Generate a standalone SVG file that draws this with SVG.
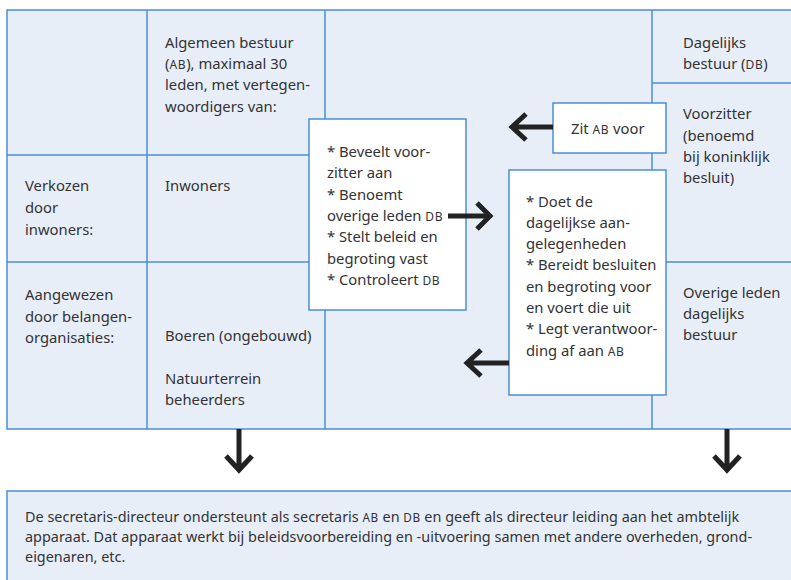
<svg xmlns="http://www.w3.org/2000/svg" width="791" height="580" viewBox="0 0 791 580">
<style>
.grid{fill:#e8eef8;stroke:#4a8fd6;stroke-width:1.5}
.ln{stroke:#4a8fd6;stroke-width:1.5;fill:none}
.box{fill:#ffffff;stroke:#4a8fd6;stroke-width:1.5}
text{font-family:"Noto Sans","Open Sans",sans-serif;font-size:14.8px;fill:#333333}
.sc{font-size:12px;letter-spacing:0.6px}
.arr{stroke:#222222;stroke-width:5;fill:none;stroke-linecap:butt;stroke-linejoin:miter}
</style>
<rect width="791" height="580" fill="#ffffff"/>
<g id="grid">
<rect class="grid" x="7" y="10" width="800" height="419"/>
<line class="ln" x1="147" y1="10" x2="147" y2="429"/>
<line class="ln" x1="325" y1="10" x2="325" y2="429"/>
<line class="ln" x1="652" y1="10" x2="652" y2="429"/>
<line class="ln" x1="7" y1="155" x2="325" y2="155"/>
<line class="ln" x1="7" y1="262" x2="325" y2="262"/>
<line class="ln" x1="652" y1="83" x2="800" y2="83"/>
<line class="ln" x1="652" y1="262" x2="800" y2="262"/>
</g>
<g id="col-labels">
<text x="25" y="191">Verkozen</text>
<text x="25" y="213">door</text>
<text x="25" y="235">inwoners:</text>
<text x="25" y="300">Aangewezen</text>
<text x="25" y="322">door belangen-</text>
<text x="25" y="343">organisaties:</text>
</g>
<g id="ab">
<text x="165" y="48">Algemeen bestuur</text>
<text x="165" y="69">(<tspan class="sc">AB</tspan>), maximaal 30</text>
<text x="165" y="90">leden, met vertegen-</text>
<text x="165" y="112">woordigers van:</text>
<text x="165" y="191">Inwoners</text>
<text x="165" y="341">Boeren (ongebouwd)</text>
<text x="165" y="384">Natuurterrein</text>
<text x="165" y="405">beheerders</text>
</g>
<g id="db">
<text x="683" y="48">Dagelijks</text>
<text x="683" y="69">bestuur (<tspan class="sc">DB</tspan>)</text>
<text x="683" y="119">Voorzitter</text>
<text x="683" y="141">(benoemd</text>
<text x="683" y="162">bij koninklijk</text>
<text x="683" y="183">besluit)</text>
<text x="683" y="298">Overige leden</text>
<text x="683" y="319">dagelijks</text>
<text x="683" y="340">bestuur</text>
</g>
<g id="zit">
<rect class="box" x="553" y="103" width="113" height="50"/>
<text x="571" y="134">Zit <tspan class="sc">AB</tspan> voor</text>
</g>
<g id="beveelt">
<rect class="box" x="309" y="119" width="157" height="191"/>
<text x="327" y="157">* Beveelt voor-</text>
<text x="327" y="178">zitter aan</text>
<text x="327" y="200">* Benoemt</text>
<text x="327" y="221">overige leden <tspan class="sc">DB</tspan></text>
<text x="327" y="242">* Stelt beleid en</text>
<text x="327" y="264">begroting vast</text>
<text x="327" y="285">* Controleert <tspan class="sc">DB</tspan></text>
</g>
<g id="doet">
<rect class="box" x="509" y="170" width="157" height="225"/>
<text x="526" y="207">* Doet de</text>
<text x="526" y="228">dagelijkse aan-</text>
<text x="526" y="249">gelegenheden</text>
<text x="526" y="270">* Bereidt besluiten</text>
<text x="526" y="292">en begroting voor</text>
<text x="526" y="313">en voert die uit</text>
<text x="526" y="334">* Legt verantwoor-</text>
<text x="526" y="356">ding af aan <tspan class="sc">AB</tspan></text>
</g>
<g id="secretaris">
<rect class="grid" x="7" y="491" width="800" height="100"/>
<g transform="translate(25 0) scale(0.975 1)">
<text x="0" y="522">De secretaris-directeur ondersteunt als secretaris <tspan class="sc">AB</tspan> en <tspan class="sc">DB</tspan> en geeft als directeur leiding aan het ambtelijk</text>
<text x="0" y="542">apparaat. Dat apparaat werkt bij beleidsvoorbereiding en -uitvoering samen met andere overheden, grond-</text>
<text x="0" y="562">eigenaren, etc.</text>
</g>
</g>
<g id="connectors">
<path class="arr" d="M553 127 H512 M526 114 L512 127 L526 140"/>
<path class="arr" d="M448 216 H490 M477 203 L490 216 L477 229"/>
<path class="arr" d="M509 363 H467 M481 350 L467 363 L481 376"/>
<path class="arr" d="M239 429 V470 M226 456 L239 470 L252 456"/>
<path class="arr" d="M727 429 V470 M714 456 L727 470 L740 456"/>
</g>
</svg>
